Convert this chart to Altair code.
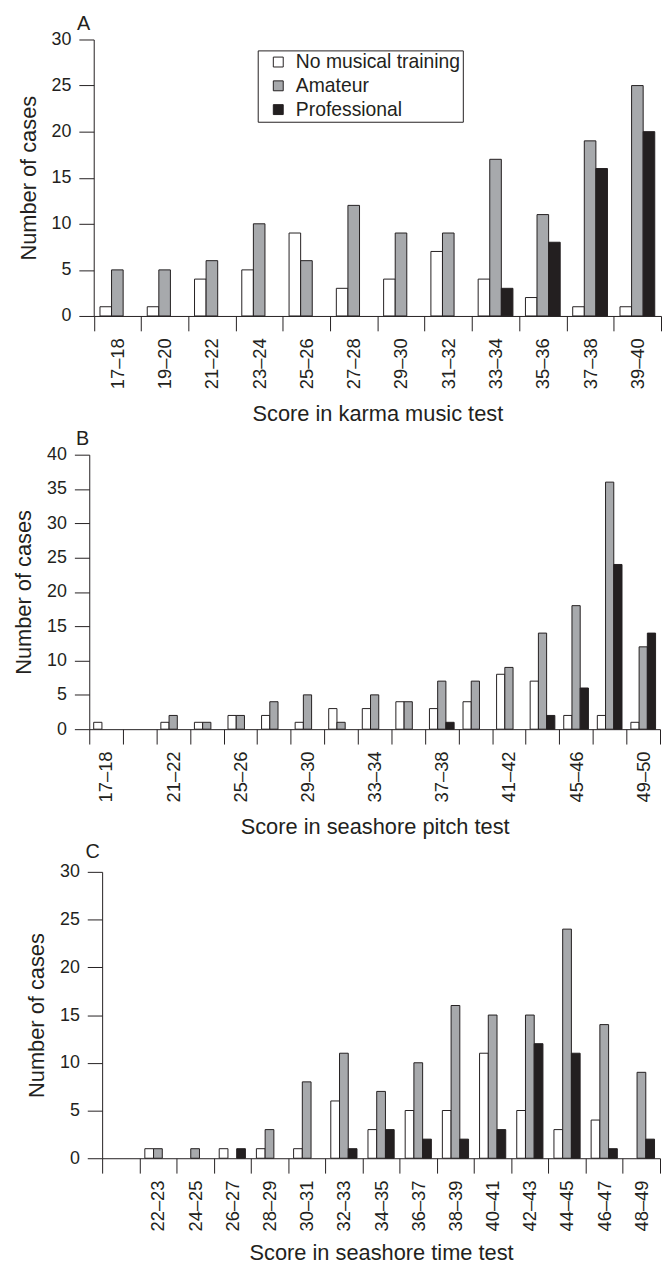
import altair as alt
import pandas as pd

FONT = "Liberation Sans"
INK = "#231f20"

groups = ["No musical training", "Amateur", "Professional"]
fills = ["#ffffff", "#a7a9ac", "#231f20"]

# Panel A: karma music test
a_bins = ["17–18", "19–20", "21–22", "23–24", "25–26", "27–28",
          "29–30", "31–32", "33–34", "35–36", "37–38", "39–40"]
a_none = [1, 1, 4, 5, 9, 3, 4, 7, 4, 2, 1, 1]
a_amateur = [5, 5, 6, 10, 6, 12, 9, 9, 17, 11, 19, 25]
a_prof = [0, 0, 0, 0, 0, 0, 0, 0, 3, 8, 16, 20]
a_yticks = [0, 5, 10, 15, 20, 25, 30]

# Panel B: seashore pitch test
b_bins = ["17–18", "19–20", "21–22", "23–24", "25–26", "27–28", "29–30",
          "31–32", "33–34", "35–36", "37–38", "39–40", "41–42", "43–44",
          "45–46", "47–48", "49–50"]
b_labels = ["17–18", "21–22", "25–26", "29–30", "33–34", "37–38",
            "41–42", "45–46", "49–50"]
b_none = [1, 0, 1, 1, 2, 2, 1, 3, 3, 4, 3, 4, 8, 7, 2, 2, 1]
b_amateur = [0, 0, 2, 1, 2, 4, 5, 1, 5, 4, 7, 7, 9, 14, 18, 36, 12]
b_prof = [0, 0, 0, 0, 0, 0, 0, 0, 0, 0, 1, 0, 0, 2, 6, 24, 14]
b_yticks = [0, 5, 10, 15, 20, 25, 30, 35, 40]

# Panel C: seashore time test (first slot is empty and unlabelled)
c_bins = [" ", "22–23", "24–25", "26–27", "28–29", "30–31", "32–33",
          "34–35", "36–37", "38–39", "40–41", "42–43", "44–45",
          "46–47", "48–49"]
c_none = [0, 1, 0, 1, 1, 1, 6, 3, 5, 5, 11, 5, 3, 4, 0]
c_amateur = [0, 1, 1, 0, 3, 8, 11, 7, 10, 16, 15, 15, 24, 14, 9]
c_prof = [0, 0, 0, 1, 0, 0, 1, 3, 2, 2, 3, 12, 11, 1, 2]
c_yticks = [0, 5, 10, 15, 20, 25, 30]

W = 576


def panel(letter, letter_dx, letter_off, bins, none, amat, prof, ymax, yticks,
          xtitle, xtitle_pad, height, rng, yoff, pad_outer, legend=None,
          keep=None):
    n = len(bins)
    df = pd.DataFrame({
        "bin": bins * 3,
        "group": [groups[0]] * n + [groups[1]] * n + [groups[2]] * n,
        "value": none + amat + prof,
    })
    ax_kw = dict(
        title=xtitle, labelAngle=-90, tickBand="extent", tickSize=15,
        labelPadding=7, labelFontSize=18.5, titleFontSize=22,
        titleFontWeight="normal", titlePadding=xtitle_pad, domainColor=INK,
        tickColor=INK, labelColor=INK, titleColor=INK,
        labelFont=FONT, titleFont=FONT,
    )
    if keep is not None:
        arr = "[" + ",".join("'" + k + "'" for k in keep) + "]"
        ax_kw["labelExpr"] = f"indexof({arr}, datum.label) >= 0 ? datum.label : ''"
    fill_kw = dict(scale=alt.Scale(domain=groups, range=fills))
    fill_kw["legend"] = legend
    return alt.Chart(df).transform_filter("datum.value > 0").mark_bar(
        stroke=INK, strokeWidth=1
    ).encode(
        x=alt.X("bin:N", sort=None,
                scale=alt.Scale(domain=bins, range=rng, paddingInner=0,
                                paddingOuter=0),
                axis=alt.Axis(**ax_kw)),
        xOffset=alt.XOffset("group:N", sort=None,
                            scale=alt.Scale(domain=groups, paddingInner=0,
                                            paddingOuter=pad_outer)),
        y=alt.Y("value:Q", scale=alt.Scale(domain=[0, ymax], nice=False),
                axis=alt.Axis(values=yticks, tickSize=15, labelPadding=8,
                              labelFontSize=18, title="Number of cases",
                              titleFontSize=22, titleFontWeight="normal",
                              titlePadding=11, offset=yoff, grid=False,
                              domainColor=INK, tickColor=INK, labelColor=INK,
                              titleColor=INK, labelFont=FONT, titleFont=FONT)),
        fill=alt.Fill("group:N", **fill_kw),
    ).properties(
        width=W, height=height,
        title=alt.TitleParams(letter, anchor="start", frame="group",
                              align="right", dx=letter_dx, fontSize=20,
                              fontWeight="normal", font=FONT, color=INK,
                              offset=letter_off),
    )


legend_a = alt.Legend(
    orient="none", legendX=170, legendY=11, title=None, symbolType="square",
    symbolSize=100, symbolStrokeColor=INK, symbolStrokeWidth=1,
    labelFontSize=19.5, labelFont=FONT, labelColor=INK, labelLimit=400,
    padding=2, symbolOffset=9, labelOffset=8, rowPadding=3,
    strokeColor=INK, fillColor="white",
)

pa = panel("A", 1, -3, a_bins, a_none, a_amateur, a_prof, 30, a_yticks,
           "Score in karma music test", 15, 279, [4.5, 577], -4.5, 0.54,
           legend=legend_a)
pb = panel("B", 0, -3, b_bins, b_none, b_amateur, b_prof, 40, b_yticks,
           "Score in seashore pitch test", 15, 277, [0, 576], 0, 0.54,
           keep=b_labels)
pc = panel("C", 10.7, 1, c_bins, c_none, c_amateur, c_prof, 30, c_yticks,
           "Score in seashore time test", 12, 289, [13, 576], -13, 0.63)

chart = alt.vconcat(pa, pb, pc, spacing=4).resolve_scale(
    x="independent", y="independent", xOffset="independent",
    fill="independent",
).resolve_legend(fill="independent").properties(
    padding={"left": 4, "top": 0, "right": 0, "bottom": 0}
).configure_view(stroke=None)

chart.save("out.html", embed_options={"renderer": "svg", "actions": False})
